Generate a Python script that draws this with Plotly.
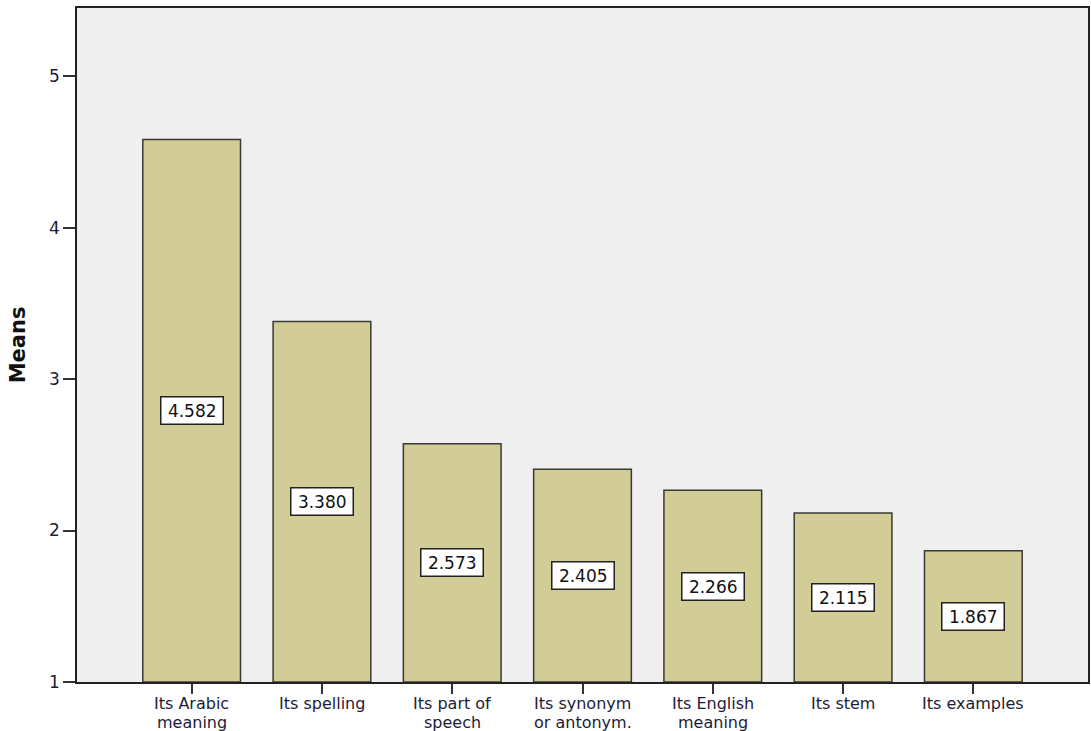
import plotly.graph_objects as go

# Mean ratings per item (line breaks mark how each axis label wraps)
categories = ["Its Arabic\nmeaning", "Its spelling", "Its part of\nspeech",
              "Its synonym\nor antonym.", "Its English\nmeaning", "Its stem", "Its examples"]
means = [4.582, 3.380, 2.573, 2.405, 2.266, 2.115, 1.867]
y_ticks = [1, 2, 3, 4, 5]

AXIS_FLOOR = 1
FONT = "DejaVu Sans"
TEXT_COLOR = "#1c1c38"

fig = go.Figure()
fig.add_trace(go.Bar(
    x=categories,
    y=[m - AXIS_FLOOR for m in means],
    base=AXIS_FLOOR,
    width=0.75,
    marker=dict(color="#D2CD96", line=dict(color="#3a3a34", width=1.5)),
    hoverinfo="skip",
))

# Value boxes centred in each bar
for cat, m in zip(categories, means):
    fig.add_annotation(
        x=cat, y=(AXIS_FLOOR + m) / 2, text=f"\u2009{m:.3f}\u2009", showarrow=False,
        font=dict(family=FONT, size=17, color="#111111"),
        bgcolor="white", bordercolor="#222222", borderwidth=1.5, borderpad=3,
    )

# Category labels under the axis, set line by line for tight spacing
for cat in categories:
    for i, line in enumerate(cat.split("\n")):
        fig.add_annotation(
            x=cat, xref="x", y=0, yref="paper", yanchor="middle",
            yshift=-21 - 19 * i, text=line, showarrow=False,
            font=dict(family=FONT, size=16, color=TEXT_COLOR),
        )

fig.update_layout(
    width=1091, height=731,
    margin=dict(l=77, r=1, t=8, b=49),
    paper_bgcolor="white",
    plot_bgcolor="#EFEFEF",
    showlegend=False,
    font=dict(family=FONT, color=TEXT_COLOR),
)
fig.update_xaxes(
    range=[-0.88, 6.88],
    showline=True, linecolor="#222222", linewidth=1.5, mirror=True,
    ticks="outside", ticklen=10, tickwidth=1.5, tickcolor="#333333",
    showticklabels=False,
    showgrid=False,
)
fig.update_yaxes(
    range=[1, 5.45],
    tickvals=y_ticks,
    showline=True, linecolor="#222222", linewidth=1.5, mirror=True,
    ticks="outside", ticklen=12, tickwidth=1.5, tickcolor="#333333",
    tickfont=dict(family=FONT, size=17, color=TEXT_COLOR),
    showgrid=False, zeroline=False,
    title=dict(text="<b>Means</b>", font=dict(family=FONT, size=21, color="#111111"), standoff=18),
)

fig.write_html("out.html")
